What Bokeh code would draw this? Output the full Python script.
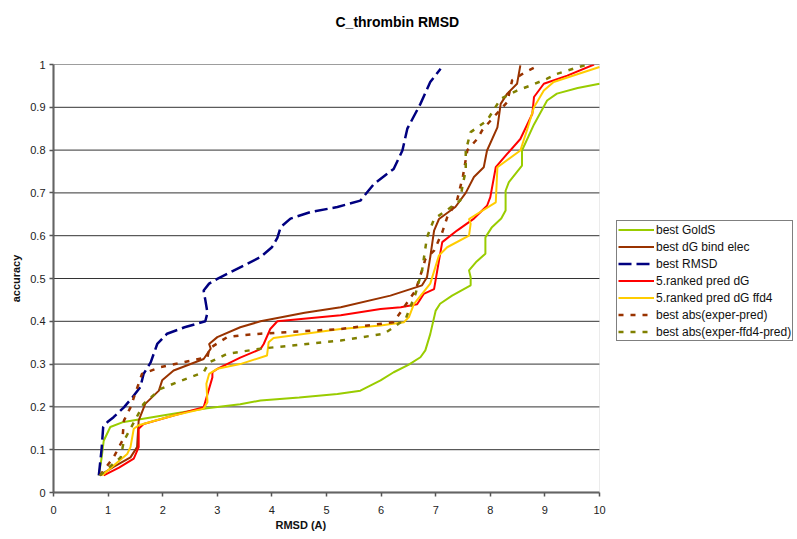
from bokeh.plotting import figure
from bokeh.models import FixedTicker, CustomJSTickFormatter, Legend, Range1d, BoxAnnotation, Title
from bokeh.embed import file_html
from bokeh.resources import INLINE

FONT = "Liberation Sans"

# ---- data ----
goldS_x = [0.83, 0.88, 0.92, 1.04, 1.26, 2.0, 2.81, 3.42, 3.79, 4.5, 5.2, 5.62, 5.99, 6.23, 6.5, 6.72,
           6.81, 6.9, 7.0, 7.08, 7.3, 7.64, 7.64, 7.61, 7.75, 7.91, 7.91, 8.03, 8.2, 8.28, 8.28, 8.34,
           8.58, 8.58, 8.8, 9.04, 9.22, 9.6, 10.0]
goldS_y = [0.04, 0.08, 0.121, 0.153, 0.164, 0.18, 0.197, 0.206, 0.215, 0.222, 0.23, 0.238, 0.262, 0.281,
           0.298, 0.316, 0.332, 0.37, 0.425, 0.441, 0.46, 0.484, 0.503, 0.519, 0.54, 0.558, 0.596, 0.62,
           0.64, 0.659, 0.705, 0.725, 0.764, 0.799, 0.86, 0.916, 0.932, 0.945, 0.955]

dgbind_x = [0.85, 1.1, 1.41, 1.53, 1.56, 1.68, 1.93, 1.99, 2.20, 2.75, 2.88, 2.85, 3.0, 3.42, 3.79, 4.03,
            4.6, 5.26, 6.17, 6.75, 6.84, 6.90, 6.97, 7.06, 7.36, 7.55, 7.70, 7.88, 7.94, 8.13, 8.19, 8.31,
            8.49, 8.55]
dgbind_y = [0.04, 0.06, 0.082, 0.106, 0.168, 0.207, 0.238, 0.262, 0.285, 0.312, 0.336, 0.347, 0.363, 0.386,
            0.40, 0.406, 0.42, 0.433, 0.46, 0.484, 0.503, 0.55, 0.612, 0.639, 0.667, 0.70, 0.737, 0.76,
            0.799, 0.853, 0.908, 0.932, 0.955, 0.998]

rmsd_x = [0.83, 0.88, 0.91, 1.0, 1.10, 1.29, 1.45, 1.59, 1.65, 1.78, 1.90, 2.08, 2.4, 2.78, 2.82, 2.78,
          2.75, 2.85, 3.0, 3.4, 3.79, 4.0, 4.1, 4.16, 4.34, 4.7, 5.2, 5.62, 5.87, 6.23, 6.39, 6.48, 6.72,
          6.90, 7.09]
rmsd_y = [0.04, 0.10, 0.153, 0.166, 0.176, 0.199, 0.223, 0.246, 0.277, 0.304, 0.347, 0.371, 0.386, 0.40,
          0.42, 0.45, 0.472, 0.488, 0.499, 0.525, 0.55, 0.573, 0.595, 0.62, 0.64, 0.655, 0.667, 0.682,
          0.721, 0.756, 0.799, 0.85, 0.908, 0.959, 0.99]

pred_x = [0.92, 1.2, 1.47, 1.56, 1.56, 1.65, 2.2, 2.75, 2.91, 2.91, 3.0, 3.42, 3.79, 3.85, 3.97, 4.10,
          5.26, 5.99, 6.36, 6.66, 6.78, 6.97, 7.06, 7.12, 7.39, 7.7, 7.94, 8.0, 8.10, 8.3, 8.55, 8.77,
          8.80, 8.98, 9.41, 9.90]
pred_y = [0.04, 0.058, 0.079, 0.106, 0.149, 0.16, 0.18, 0.199, 0.269, 0.281, 0.289, 0.315, 0.335, 0.347,
          0.382, 0.40, 0.414, 0.429, 0.433, 0.44, 0.464, 0.475, 0.542, 0.585, 0.612, 0.64, 0.67, 0.69,
          0.76, 0.79, 0.826, 0.885, 0.924, 0.955, 0.974, 1.0]

ffd4_x = [0.89, 1.35, 1.41, 1.47, 1.56, 2.2, 2.75, 2.82, 2.80, 2.85, 3.0, 3.42, 3.91, 3.94, 4.03, 5.26,
          5.99, 6.42, 6.51, 6.60, 6.90, 7.06, 7.21, 7.61, 7.64, 7.61, 8.10, 8.13, 8.55, 8.68, 8.80, 8.98,
          9.16, 10.0]
ffd4_y = [0.04, 0.09, 0.106, 0.149, 0.157, 0.18, 0.196, 0.211, 0.254, 0.277, 0.289, 0.30, 0.32, 0.351,
          0.361, 0.382, 0.39, 0.398, 0.41, 0.44, 0.488, 0.554, 0.573, 0.60, 0.628, 0.639, 0.678, 0.76,
          0.799, 0.85, 0.90, 0.939, 0.959, 0.994]

absp_x = [0.85, 1.10, 1.26, 1.29, 1.41, 1.62, 1.96, 2.4, 2.82, 2.85, 3.18, 3.42, 3.79, 5.26, 6.23, 6.42,
          6.63, 6.75, 6.81, 6.97, 7.12, 7.21, 7.39, 7.5, 7.58, 7.76, 7.85, 8.06, 8.31, 8.40, 8.64, 8.89]
absp_y = [0.04, 0.082, 0.121, 0.168, 0.199, 0.277, 0.293, 0.305, 0.316, 0.336, 0.363, 0.367, 0.371, 0.382,
          0.398, 0.433, 0.472, 0.519, 0.545, 0.565, 0.608, 0.643, 0.682, 0.74, 0.80, 0.826, 0.846, 0.877,
          0.912, 0.963, 0.982, 0.998]

absf_x = [0.85, 1.23, 1.29, 1.59, 1.65, 1.96, 2.27, 2.75, 2.85, 3.18, 3.79, 5.26, 6.05, 6.23, 6.45, 6.63,
          6.75, 6.84, 6.97, 7.24, 7.45, 7.49, 7.55, 7.55, 7.64, 7.94, 8.19, 8.49, 8.74, 9.04, 9.22, 9.77]
absf_y = [0.04, 0.082, 0.121, 0.192, 0.207, 0.242, 0.258, 0.281, 0.304, 0.324, 0.336, 0.355, 0.371, 0.386,
          0.406, 0.464, 0.519, 0.596, 0.639, 0.663, 0.682, 0.717, 0.752, 0.799, 0.842, 0.869, 0.92, 0.939,
          0.951, 0.967, 0.978, 1.0]

x_ticks = list(range(0, 11))
y_ticks = [0.0, 0.1, 0.2, 0.3, 0.4, 0.5, 0.6, 0.7, 0.8, 0.9, 1.0]

X0, X1 = x_ticks[0], x_ticks[-1]
# frame spans the legend area too; the plot area is x in [0, 10]
p = figure(width=797, height=539, x_range=Range1d(X0, 13.626), y_range=Range1d(0, 1),
           output_backend="svg", toolbar_location=None,
           min_border_left=53, min_border_right=0, min_border_top=64, min_border_bottom=47)

# spacer (closest to the frame), then the real title above it
p.add_layout(Title(text=" ", text_font_size="1px", standoff=22), "above")
p.add_layout(Title(text="C_thrombin RMSD", align="left", offset=282, standoff=19,
                   text_font=FONT, text_font_size="14px", text_font_style="bold",
                   text_color="#000000"), "above")

p.background_fill_color = "white"
p.border_fill_color = "white"
p.outline_line_color = None
p.xgrid.visible = False
p.ygrid.visible = False

# horizontal gridlines limited to the plot area
p.segment(x0=[X0] * (len(y_ticks) - 1), x1=[X1] * (len(y_ticks) - 1),
          y0=y_ticks[1:], y1=y_ticks[1:], line_color="#333333", line_width=1)
p.add_layout(BoxAnnotation(left=X0, right=X1, bottom=y_ticks[0], top=y_ticks[-1],
                           fill_alpha=0, line_color="#bdbdbd", line_width=1))

for ax in (p.xaxis[0], p.yaxis[0]):
    ax.axis_line_color = "#555555"
    ax.axis_line_width = 2
    ax.major_tick_line_color = "#555555"
    ax.major_tick_line_width = 1.5
    ax.major_tick_in = 0
    ax.major_tick_out = 4
    ax.minor_tick_line_color = None
    ax.major_label_text_font = FONT
    ax.major_label_text_font_size = "11px"
    ax.major_label_text_color = "#222222"
    ax.axis_label_text_font = FONT
    ax.axis_label_text_font_size = "11px"
    ax.axis_label_text_font_style = "bold"
    ax.axis_label_text_color = "#111111"

p.xaxis.bounds = (X0, X1)
p.xaxis.ticker = FixedTicker(ticks=x_ticks)
p.yaxis.ticker = FixedTicker(ticks=y_ticks)
p.yaxis.formatter = CustomJSTickFormatter(code="return (Math.round(tick*10)/10).toString();")
p.yaxis.axis_label = "accuracy"
p.xaxis.major_label_standoff = 9
p.yaxis.major_label_standoff = 4
p.yaxis.axis_label_standoff = 5

xlab = Title(text="RMSD (A)", align="left", offset=222, standoff=0,
             text_font=FONT, text_font_size="11px", text_font_style="bold", text_color="#111111")
p.add_layout(xlab, "below")

W = 2
items = []
r = p.line(goldS_x, goldS_y, line_color="#99CC00", line_width=W)
items.append(("best GoldS", [r]))
r = p.line(dgbind_x, dgbind_y, line_color="#993300", line_width=W)
items.append(("best dG bind elec", [r]))
r = p.line(rmsd_x, rmsd_y, line_color="#000080", line_width=2.5, line_dash="13 5")
items.append(("best RMSD", [r]))
r = p.line(pred_x, pred_y, line_color="#FF0000", line_width=W)
items.append(("5.ranked pred dG", [r]))
r = p.line(ffd4_x, ffd4_y, line_color="#FFCC00", line_width=W)
items.append(("5.ranked pred dG ffd4", [r]))
r = p.line(absp_x, absp_y, line_color="#993300", line_width=2.5, line_dash="5 7")
items.append(("best abs(exper-pred)", [r]))
r = p.line(absf_x, absf_y, line_color="#808000", line_width=2.5, line_dash="5 7")
items.append(("best abs(exper-ffd4-pred)", [r]))

lg = Legend(items=items, location=(563, 151))
lg.label_text_font = FONT
lg.label_text_font_size = "12px"
lg.label_text_color = "#111111"
lg.glyph_width = 36
lg.glyph_height = 15
lg.label_height = 15
lg.label_standoff = 2
lg.spacing = 2
lg.padding = 1
lg.margin = 0
lg.border_line_color = "black"
lg.border_line_width = 1
lg.background_fill_color = "white"
lg.background_fill_alpha = 1
p.add_layout(lg, "center")

open("out.html", "w").write(file_html(p, INLINE))
